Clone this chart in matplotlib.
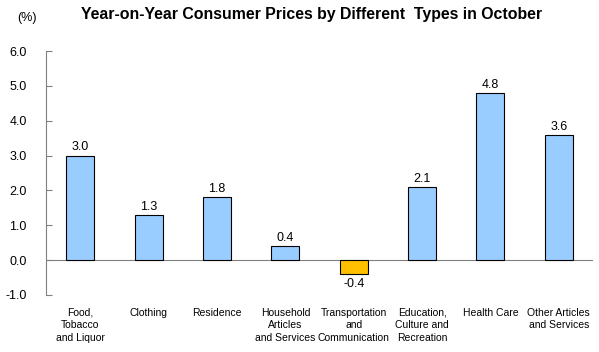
import matplotlib
matplotlib.use("Agg")
import matplotlib.pyplot as plt

categories = ["Food,\nTobacco\nand Liquor", "Clothing", "Residence",
              "Household\nArticles\nand Services", "Transportation\nand\nCommunication",
              "Education,\nCulture and\nRecreation", "Health Care",
              "Other Articles\nand Services"]
values = [3.0, 1.3, 1.8, 0.4, -0.4, 2.1, 4.8, 3.6]
yticks = [-1.0, 0.0, 1.0, 2.0, 3.0, 4.0, 5.0, 6.0]

plt.rcParams['font.family'] = ['Liberation Sans', 'DejaVu Sans']

fig = plt.figure(figsize=(5.99, 3.52), dpi=100)
ax = fig.add_axes([0.077, 0.162, 0.913, 0.693])

colors = ['#99CCFF' if v >= 0 else '#FFC000' for v in values]
x = list(range(len(values)))
ax.bar(x, values, width=0.41, color=colors, edgecolor='black', linewidth=0.8, zorder=3)

for xi, v in zip(x, values):
    off = 0.06 if v >= 0 else -0.12
    ax.text(xi, v + off, f"{v:.1f}", ha='center', va='bottom' if v >= 0 else 'top', fontsize=9)

ax.set_xlim(-0.5, len(values) - 0.5)
ax.set_ylim(-1.0, 6.0)
ax.set_yticks(yticks)
ax.set_yticklabels([f"{t:.1f}" for t in yticks], fontsize=9)
ax.tick_params(axis='y', direction='in', length=4, color='#808080', pad=14)
ax.set_xticks([])
for xi, lab in zip(x, categories):
    ax.text(xi, -1.36, lab, ha='center', va='top', fontsize=7.5, linespacing=1.35)

ax.axhline(0, color='#808080', linewidth=0.8, zorder=2)
for s in ['top', 'right', 'bottom']:
    ax.spines[s].set_visible(False)
ax.spines['left'].set_color('#808080')

fig.text(0.028, 0.94, "(%)", fontsize=9)
fig.text(0.52, 0.945, "Year-on-Year Consumer Prices by Different  Types in October",
         ha='center', fontsize=11.4, fontweight='bold')

fig.savefig("out.png", dpi=100)
